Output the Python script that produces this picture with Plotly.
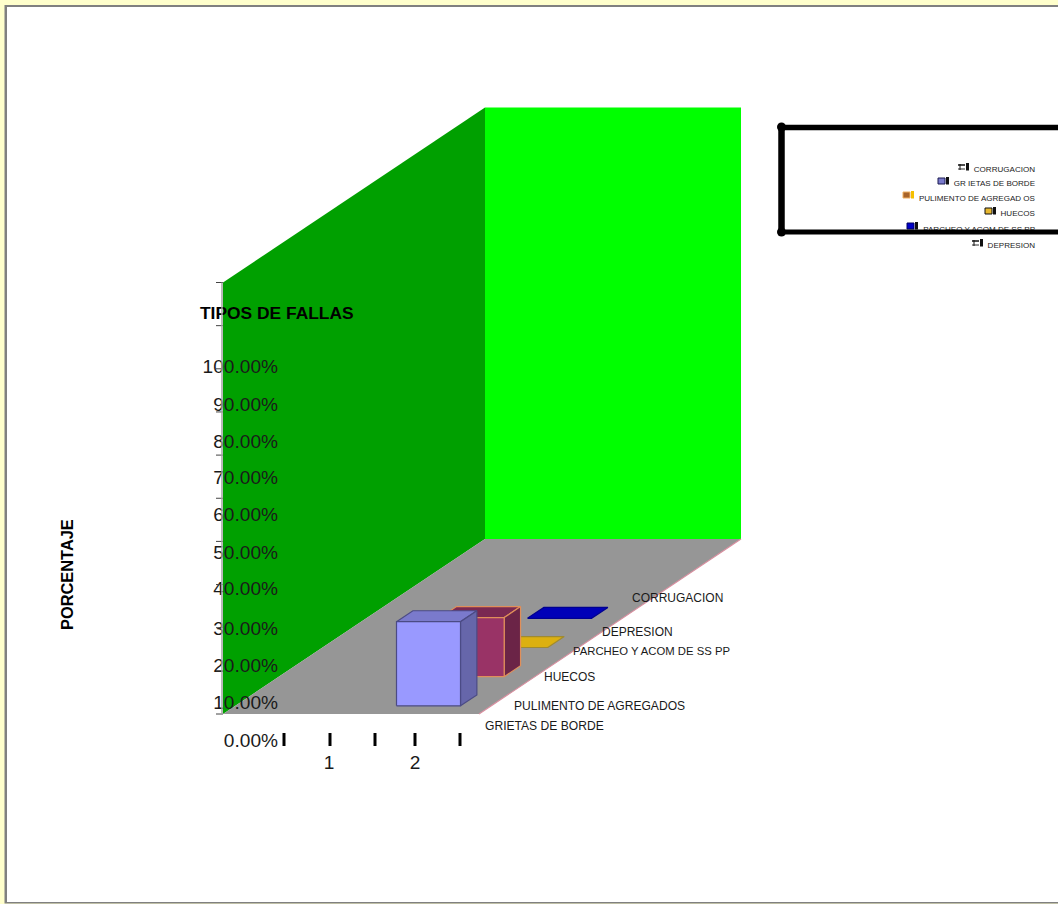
import plotly.graph_objects as go

# ---- data ----
depth_categories = ["GRIETAS DE BORDE", "PULIMENTO DE AGREGADOS", "HUECOS",
                    "PARCHEO Y ACOM DE SS PP", "DEPRESION", "CORRUGACION"]
series_values = [19.5, 13.7, 0.0, 0.0, 0.0, 0.0]   # percent, at category 2
x_categories = ["1", "2"]
y_tick_values = [0, 10, 20, 30, 40, 50, 60, 70, 80, 90, 100]
y_tick_labels = ["0.00%", "10.00%", "20.00%", "30.00%", "40.00%", "50.00%",
                 "60.00%", "70.00%", "80.00%", "90.00%", "100.00%"]
legend_order = ["CORRUGACION", "GR IETAS DE BORDE", "PULIMENTO DE AGREGAD OS",
                "HUECOS", "PARCHEO Y ACOM DE SS PP", "DEPRESION"]

# ---- styles per series: front, side, top, edge ----
STYLE = {
    0: ("#9999FF", "#6666AA", "#7A7ACC", "#4B4B85"),
    1: ("#993366", "#6B2447", "#7A2952", "#E08F5A"),
    2: ("#DCB010", "#A88208", "#DCB010", "#A08A30"),
    3: ("#0000B8", "#000080", "#0000B8", "#000090"),
}

# ---- oblique projection of the 3D chart box onto the page ----
ORIGIN_X, ORIGIN_Y = 223, 714
WIDTH, HEIGHT = 256, 431.5
DEPTH_DX, DEPTH_DY = 262, 175
N_ROWS = len(depth_categories)
BAR_WIDTH, BAR_DEPTH, BAR_GAP = 0.25, 0.375, 0.28
FONT = "Liberation Sans, Arial, sans-serif"


def project(x, value, depth):
    return (ORIGIN_X + x * WIDTH + depth * DEPTH_DX,
            ORIGIN_Y - value / 100 * HEIGHT - depth * DEPTH_DY)


def poly(points, fill, line=None, lw=1.2):
    pts = [project(*p) for p in points]
    xs = [p[0] for p in pts] + [pts[0][0]]
    ys = [p[1] for p in pts] + [pts[0][1]]
    return go.Scatter(x=xs, y=ys, mode="lines", fill="toself", fillcolor=fill,
                      line=dict(color=line or fill, width=lw if line else 0),
                      hoverinfo="skip", showlegend=False)


def text(x, y, s, size, anchor="middle right", bold=False, color="#1a1a1a"):
    label = f"<b>{s}</b>" if bold else s
    return go.Scatter(x=[x], y=[y], mode="text", text=[label], textposition=anchor,
                      textfont=dict(family=FONT, size=size, color=color),
                      hoverinfo="skip", showlegend=False)


traces = []
# walls and floor
traces.append(poly([(0, 0, 0), (0, 100, 0), (0, 100, 1), (0, 0, 1)], "#00A000"))
traces.append(poly([(0, 0, 1), (0, 100, 1), (1, 100, 1), (1, 0, 1)], "#00FF00"))
traces.append(poly([(0, 0, 0), (0, 0, 1), (1, 0, 1), (1, 0, 0)], "#969696"))
traces.append(go.Scatter(x=[project(1, 0, 0)[0], project(1, 0, 1)[0]],
                         y=[project(1, 0, 0)[1], project(1, 0, 1)[1]],
                         mode="lines", line=dict(color="#D98FA0", width=1.2),
                         hoverinfo="skip", showlegend=False))

# bars, back to front
cat_center = (x_categories.index("2") + 0.5) / len(x_categories) + 0.005
x0, x1 = cat_center - BAR_WIDTH / 2, cat_center + BAR_WIDTH / 2
for i in range(3, -1, -1):
    v = series_values[i]
    d0 = (i + BAR_GAP) / N_ROWS
    d1 = d0 + BAR_DEPTH / N_ROWS
    front, side, top, edge = STYLE[i]
    traces.append(poly([(x0, v, d0), (x1, v, d0), (x1, v, d1), (x0, v, d1)], top, edge))
    if v > 0:
        traces.append(poly([(x1, 0, d0), (x1, v, d0), (x1, v, d1), (x1, 0, d1)], side, edge))
        traces.append(poly([(x0, 0, d0), (x1, 0, d0), (x1, v, d0), (x0, v, d0)], front, edge))

# y tick labels (drawn at the reference's own, offset spacing)
Y_LABEL_ROWS = [742, 704, 667, 630, 590, 554, 516, 479, 443, 406, 368]
for lab, y in zip(y_tick_labels, Y_LABEL_ROWS):
    traces.append(text(278, y, lab, 19.1, "middle left"))

# x labels
for lab, x in zip(x_categories, [329, 415]):
    traces.append(text(x, 764, lab, 19.1, "middle center"))

# depth labels
DEPTH_LABEL_POS = [(485, 727), (514, 707), (544, 678), (573, 652), (602, 633), (632, 599)]
DEPTH_LABEL_SIZE = [12.1, 12.1, 12, 11.3, 12, 12]
for lab, (x, y), s in zip(depth_categories, DEPTH_LABEL_POS, DEPTH_LABEL_SIZE):
    traces.append(text(x, y, lab, s, "middle right"))

# chart title
traces.append(text(200, 315, "TIPOS DE FALLAS", 17.4, "middle right", bold=True, color="#000"))

# legend text
LEGEND_Y = [170, 184, 199, 214, 230, 246]
for lab, y in zip(legend_order, LEGEND_Y):
    traces.append(text(1035, y, lab, 8.05, "middle left", color="#222"))

# ---- shapes ----
shapes = [
    dict(type="rect", x0=4.5, y0=5, x1=1058, y1=903.5, fillcolor="#808080", line_width=0, layer="below"),
    dict(type="rect", x0=7, y0=7, x1=1058, y1=902, fillcolor="#FFFFFF", line_width=0, layer="below"),
]
for v in y_tick_values:
    _, ty = project(0, v, 0)
    shapes.append(dict(type="line", x0=216, x1=223, y0=ty, y1=ty, line=dict(color="#444", width=1), layer="above"))
shapes.append(dict(type="line", x0=222, x1=222, y0=project(0, 100, 0)[1], y1=ORIGIN_Y,
                   line=dict(color="#A0A0A0", width=1.5), layer="above"))
for tx in [284, 330, 375, 415, 460]:
    shapes.append(dict(type="line", x0=tx, x1=tx, y0=733, y1=746, line=dict(color="#000", width=3), layer="above"))

# legend keys: swatch, border colour, bar colour
KEYS = [(958, 164, "#FFFFFF", None, "#111"), (938, 178, "#7A7ACC", "#1A1A50", "#111"),
        (903, 192, "#A8642A", "#F0B060", "#F5C000"), (985, 208, "#E8B830", "#111", "#111"),
        (907, 223, "#0000C8", "#000060", "#111"), (972, 240, "#FFFFFF", None, "#111")]
for kx, ky, c, border, bar in KEYS:
    if border:
        shapes.append(dict(type="rect", x0=kx, x1=kx + 7, y0=ky, y1=ky + 6, fillcolor=c,
                           line=dict(color=border, width=1), layer="above"))
    else:
        shapes.append(dict(type="line", x0=kx, x1=kx + 7, y0=ky + 1, y1=ky + 1, line=dict(color="#111", width=1.5), layer="above"))
        shapes.append(dict(type="line", x0=kx, x1=kx + 7, y0=ky + 5, y1=ky + 5, line=dict(color="#333", width=1), layer="above"))
        shapes.append(dict(type="line", x0=kx + 2, x1=kx + 2, y0=ky, y1=ky + 6, line=dict(color="#111", width=1), layer="above"))
    shapes.append(dict(type="rect", x0=kx + 8, x1=kx + 11, y0=ky - 1, y1=ky + 6.5, fillcolor=bar,
                       line_width=0, layer="above"))

# legend frame: thick black, open on the right
for a, w in [(dict(x0=781, y0=127.5, x1=1058, y1=127.5), 5.5),
             (dict(x0=781, y0=232, x1=1058, y1=232), 5),
             (dict(x0=781.5, y0=127, x1=781.5, y1=232), 6.5)]:
    shapes.append(dict(type="line", line=dict(color="#000", width=w), layer="above", **a))
for cy in [127, 232]:
    shapes.append(dict(type="circle", x0=777, x1=786, y0=cy - 4.5, y1=cy + 4.5, fillcolor="#000", line_width=0, layer="above"))

fig = go.Figure(traces)
fig.update_layout(
    width=1058, height=904, margin=dict(l=0, r=0, t=0, b=0),
    paper_bgcolor="#FFFFCC", plot_bgcolor="rgba(0,0,0,0)",
    xaxis=dict(range=[0, 1058], visible=False, fixedrange=True),
    yaxis=dict(range=[904, 0], visible=False, fixedrange=True),
    shapes=shapes, showlegend=False,
    annotations=[dict(x=67, y=575, xref="x", yref="y", text="<b>PORCENTAJE</b>", textangle=-90,
                      showarrow=False, font=dict(family=FONT, size=16.4, color="#000"))],
)
fig.write_html("out.html", config=dict(displayModeBar=False),
               post_script="document.body.style.margin='0';document.body.style.overflow='hidden';")
